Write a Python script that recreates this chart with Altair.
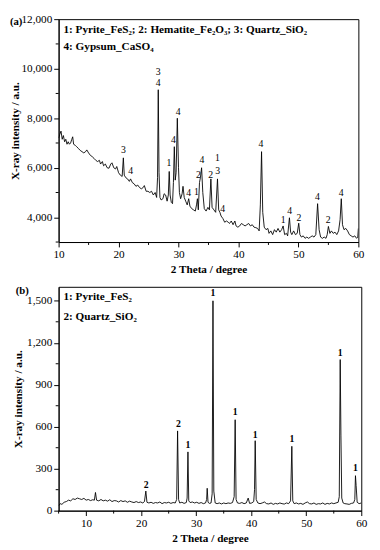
import altair as alt
import pandas as pd

FONT = "Liberation Serif"

# ---------------- panel (a) pattern ----------------
a_x = [10.0, 10.2, 10.4, 10.6, 10.8, 11.0, 11.2, 11.4, 11.6, 11.8, 12.0, 12.2, 12.35, 12.5, 12.8,
       13.0, 13.3, 13.6, 13.9, 14.2, 14.5, 14.7, 15.0, 15.3, 15.6, 15.9, 16.2, 16.5, 16.8, 17.0,
       17.3, 17.5, 17.8, 18.1, 18.4, 18.7, 18.9, 19.2, 19.5, 19.7, 20.0, 20.3, 20.6, 20.8, 20.95,
       21.2, 21.5, 21.8, 22.0, 22.3, 22.6, 22.9, 23.2, 23.5, 23.8, 24.1, 24.3, 24.6, 24.9, 25.2,
       25.5, 25.8, 26.1, 26.35, 26.5, 26.62, 26.75, 26.9, 27.1, 27.4, 27.6, 27.85, 28.1, 28.3, 28.45,
       28.6, 28.8, 29.0, 29.15, 29.3, 29.45, 29.6, 29.8, 30.0, 30.15, 30.35, 30.6, 30.75, 30.95, 31.2,
       31.45, 31.7, 31.9, 32.2, 32.5, 32.8, 33.0, 33.15, 33.3, 33.5, 33.65, 33.85, 34.05, 34.3, 34.6,
       34.9, 35.15, 35.4, 35.6, 35.9, 36.2, 36.5, 36.7, 36.9, 37.1, 37.4, 37.7, 38.0, 38.3, 38.5,
       38.8, 39.1, 39.4, 39.6, 39.9, 40.2, 40.5, 40.8, 41.1, 41.4, 41.7, 42.0, 42.3, 42.6, 42.9,
       43.2, 43.45, 43.65, 43.85, 44.05, 44.3, 44.6, 44.9, 45.1, 45.4, 45.7, 46.0, 46.3, 46.6, 46.9,
       47.2, 47.45, 47.7, 48.0, 48.2, 48.5, 48.7, 48.9, 49.2, 49.5, 49.8, 50.05, 50.25, 50.5, 50.8,
       51.1, 51.4, 51.7, 52.0, 52.3, 52.6, 52.9, 53.2, 53.45, 53.7, 54.0, 54.3, 54.6, 54.8, 55.0,
       55.25, 55.5, 55.8, 56.1, 56.4, 56.7, 56.95, 57.15, 57.35, 57.6, 57.9, 58.2, 58.5, 58.8, 59.1,
       59.4, 59.7, 59.9, 60.0]
a_y = [7200, 7350, 7480, 7150, 7300, 7050, 7150, 6950, 7050, 6950, 7000, 7150, 7250, 6950, 6900,
       6850, 6780, 6700, 6650, 6600, 6650, 6720, 6600, 6500, 6450, 6380, 6300, 6250, 6300, 6150,
       6250, 6080, 6150, 6000, 5980, 6150, 6200, 6000, 5950, 6050, 5800, 5700, 5650, 6400, 5700,
       5600, 5550, 5450, 5550, 5400, 5350, 5250, 5300, 5200, 5150, 5200, 5280, 5050, 5050, 5000,
       5050, 4900, 5000, 4800, 5600, 9150, 5800, 4800, 4700, 4750, 4950, 4900, 4650, 4900, 5850,
       4900, 4600, 4550, 5400, 6850, 5500, 5800, 8000, 6000, 5000, 4750, 4950, 5250, 4800, 4650,
       4500, 4750, 4450, 4350, 4300, 4250, 4500, 4750, 4300, 5400, 5600, 6000, 5000, 4350, 4250,
       4400, 4300, 5550, 4400, 4300, 4200, 5550, 4300, 4200, 4050, 3950, 3800, 3850, 3800, 3750,
       3850, 3700, 3850, 3650, 3600, 3650, 3750, 3700, 3650, 3700, 3750, 3650, 3700, 3600, 3580,
       3550, 3450, 4500, 6650, 4200, 3600, 3500, 3550, 3350, 3450, 3300, 3500, 3400, 3550, 3400,
       3500, 3650, 3300, 3350, 3250, 3980, 3400, 3300, 3450, 3300, 3350, 3760, 3300, 3200, 3250,
       3150, 3200, 3150, 3200, 3250, 3200, 3300, 4550, 3500, 3200, 3150, 3200, 3150, 3300, 3630,
       3350, 3450, 3350, 3400, 3300, 3450, 3900, 4750, 3700, 3500, 3550, 3450, 3300, 3250, 3200,
       3250, 3150, 3200, 3550]

a_lab_x = [20.8, 22.0, 26.6, 26.6, 28.4, 29.15, 29.95, 31.7, 33.0, 33.3, 33.9, 35.35, 36.5, 36.55,
           37.35, 43.75, 47.45, 48.55, 50.1, 53.15, 54.95, 57.15]
a_lab_y = [6720, 5870, 9850, 9420, 6200, 7100, 8250, 4980, 5020, 5700, 6300, 5700, 6390, 5870,
           4340, 6970, 3890, 4245, 3980, 4810, 3890, 4990]
a_lab_t = ["3", "4", "3", "4", "1", "4", "4", "4", "1", "2", "4", "2", "1", "3",
           "4", "4", "1", "4", "2", "4", "2", "4"]
a_legend = ["1: Pyrite_FeS\u2082; 2: Hematite_Fe\u2082O\u2083; 3: Quartz_SiO\u2082",
            "4: Gypsum_CaSO\u2084"]
a_xticks_major = [10, 20, 30, 40, 50, 60]
a_xticks_minor = [15, 25, 35, 45, 55]
a_yticks_major = [4000, 6000, 8000, 10000, 12000]
a_yticks_minor = [3000, 5000, 7000, 9000, 11000]

# ---------------- panel (b) pattern ----------------
b_x = [5.0, 5.3, 5.6, 6.0, 6.4, 6.8, 7.2, 7.6, 8.0, 8.4, 8.8, 9.2, 9.6, 10.0, 10.4, 10.8, 11.2, 11.5,
       11.7, 11.9, 12.3, 12.7, 13.1, 13.5, 13.9, 14.3, 14.7, 15.1, 15.5, 15.9, 16.3, 16.7, 17.1, 17.5,
       17.9, 18.3, 18.7, 19.1, 19.5, 19.9, 20.3, 20.6, 20.85, 21.05, 21.4, 21.8, 22.2, 22.6, 23.0, 23.4,
       23.8, 24.2, 24.6, 25.0, 25.4, 25.8, 26.2, 26.45, 26.62, 26.8, 27.0, 27.4, 27.8, 28.2, 28.35,
       28.5, 28.65, 28.9, 29.3, 29.7, 30.1, 30.5, 30.9, 31.3, 31.7, 31.9, 32.0, 32.15, 32.4, 32.7,
       32.9, 33.05, 33.2, 33.45, 33.8, 34.2, 34.6, 35.0, 35.4, 35.8, 36.2, 36.6, 36.9, 37.08, 37.25,
       37.5, 37.9, 38.3, 38.7, 39.1, 39.45, 39.7, 40.1, 40.45, 40.6, 40.72, 40.9, 41.2, 41.6, 42.0,
       42.4, 42.8, 43.2, 43.6, 44.0, 44.4, 44.8, 45.2, 45.6, 46.0, 46.4, 46.8, 47.15, 47.38, 47.55,
       47.8, 48.2, 48.6, 49.0, 49.4, 49.8, 50.2, 50.6, 51.0, 51.4, 51.8, 52.2, 52.6, 53.0, 53.4,
       53.8, 54.2, 54.6, 55.0, 55.4, 55.8, 56.0, 56.17, 56.3, 56.45, 56.7, 57.0, 57.4, 57.8, 58.2,
       58.6, 58.82, 58.94, 59.06, 59.25, 59.6, 60.0]
b_y = [35, 50, 45, 60, 65, 75, 70, 85, 80, 90, 85, 80, 88, 75, 80, 72, 78, 75,
       130, 75, 70, 80, 70, 75, 68, 78, 65, 72, 70, 62, 72, 65, 70, 60,
       68, 62, 58, 65, 58, 62, 55, 65, 140, 60, 55, 60, 52, 58, 55, 62,
       50, 58, 55, 60, 52, 58, 55, 80, 570, 80, 55, 60, 52, 58, 90,
       420, 70, 58, 62, 55, 60, 52, 58, 50, 55, 80, 160, 60, 52, 55,
       120, 1500, 140, 55, 50, 55, 48, 55, 50, 55, 52, 58, 100, 650, 80,
       55, 52, 58, 50, 55, 90, 52, 55, 65, 150, 500, 80, 55, 50, 55,
       62, 50, 48, 55, 45, 52, 48, 55, 50, 47, 55, 50, 70, 460, 70,
       50, 55, 48, 52, 45, 55, 62, 50, 48, 55, 45, 50, 48, 55, 45,
       52, 48, 55, 50, 55, 60, 100, 1080, 540, 90, 55, 50, 48, 45, 52,
       55, 80, 250, 180, 60, 50, 55]

b_lab_x = [20.9, 26.75, 28.5, 33.03, 37.1, 40.72, 47.4, 56.17, 58.94]
b_lab_y = [180, 616, 470, 1558, 705, 542, 512, 1128, 302]
b_lab_t = ["2", "2", "1", "1", "1", "1", "1", "1", "1"]
b_legend = ["1: Pyrite_FeS\u2082", "2: Quartz_SiO\u2082"]
b_xticks_major = [10, 20, 30, 40, 50, 60]
b_xticks_minor = [5, 15, 25, 35, 45, 55]
b_yticks_major = [0, 300, 600, 900, 1200, 1500]
b_yticks_minor = [150, 450, 750, 1050, 1350]

TITLE_X = "2 Theta / degree"
TITLE_Y = "X-ray intensity / a.u."


def panel(xs, ys, lx, ly, lt, legend, tag, xdom, ydom, xmaj, xmin, ymaj, ymin,
          w, h, label_weight, legend_y, tag_pos, title_pad):
    df = pd.DataFrame({"x": xs, "y": ys})
    dl = pd.DataFrame({"x": lx, "y": ly, "t": lt})
    xenc = alt.X("x:Q", scale=alt.Scale(domain=xdom, nice=False, zero=False),
                 axis=alt.Axis(values=xmaj, format=",.0f", title=TITLE_X, tickSize=5))
    yenc = alt.Y("y:Q", scale=alt.Scale(domain=ydom, nice=False, zero=False),
                 axis=alt.Axis(values=ymaj, format=",.0f", title=TITLE_Y, tickSize=5,
                               titlePadding=title_pad))
    line = alt.Chart(df).mark_line(color="black", strokeWidth=0.9, clip=True).encode(x=xenc, y=yenc)
    # minor ticks, positioned through the shared scales
    mx = alt.Chart(pd.DataFrame({"x": xmin})).mark_rule(
        color="black", strokeWidth=1, clip=False).encode(
        x="x:Q", y=alt.value(h), y2=alt.value(h + 3))
    my = alt.Chart(pd.DataFrame({"y": ymin})).mark_rule(
        color="black", strokeWidth=1, clip=False).encode(
        y="y:Q", x=alt.value(0), x2=alt.value(-3))
    labels = alt.Chart(dl).mark_text(font=FONT, fontSize=10, fontWeight=label_weight,
                                     color="black", baseline="middle").encode(
        x="x:Q", y="y:Q", text="t:N")
    layers = [line, mx, my, labels]
    for i, txt in enumerate(legend):
        layers.append(
            alt.Chart(pd.DataFrame({"t": [txt]})).mark_text(
                font=FONT, fontSize=11.5, fontWeight="bold", color="black",
                align="left", baseline="middle").encode(
                x=alt.value(5), y=alt.value(legend_y[i]), text="t:N"))
    layers.append(
        alt.Chart(pd.DataFrame({"t": [tag]})).mark_text(
            font=FONT, fontSize=11, fontWeight="bold", color="black",
            align="left", baseline="middle").encode(
            x=alt.value(tag_pos[0]), y=alt.value(tag_pos[1]), text="t:N"))
    return alt.layer(*layers).properties(width=w, height=h)


top = panel(a_x, a_y, a_lab_x, a_lab_y, a_lab_t, a_legend, "(a)",
            [10, 60], [3000, 12000], a_xticks_major, a_xticks_minor,
            a_yticks_major, a_yticks_minor,
            308, 229, "normal", [11, 29], (-50, 3), 1)
bottom = panel(b_x, b_y, b_lab_x, b_lab_y, b_lab_t, b_legend, "(b)",
               [5, 60], [0, 1600], b_xticks_major, b_xticks_minor,
               b_yticks_major, b_yticks_minor,
               311, 230, "bold", [11, 31], (-44, 4), 3)

chart = alt.vconcat(top, bottom, spacing=8).properties(
    padding={"left": 0, "top": -3, "right": 4, "bottom": 0}
).configure_view(stroke="black", strokeWidth=1).configure_axis(
    grid=False, domainColor="black", tickColor="black", labelColor="black",
    titleColor="black", labelFont=FONT, titleFont=FONT, labelFontSize=11.5,
    titleFontSize=11.5, titleFontWeight="bold", labelPadding=2, tickWidth=1,
    domainWidth=1, labelFlush=False, labelOverlap=False,
)

chart.save("out.html", embed_options={"renderer": "svg", "actions": False})
